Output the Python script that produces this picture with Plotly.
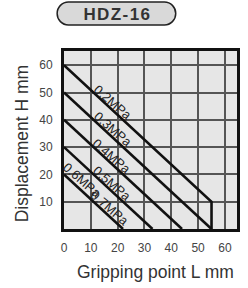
import plotly.graph_objects as go

# ---- data ----
pressure_labels = ["0.2MPa", "0.3MPa", "0.4MPa", "0.5MPa", "0.6MPa", "0.7MPa"]
# each curve: gripping point L (x) vs displacement H (y)
curve_names = ["0.2MPa", "0.3MPa", "0.4MPa", "0.5MPa", "0.6-0.7MPa"]
curve_L = [[0, 55, 55], [0, 55], [0, 44], [0, 33], [0, 22]]
curve_H = [[60, 10, 0], [50, 0], [40, 0], [30, 0], [20, 0]]
x_ticks = [0, 10, 20, 30, 40, 50, 60]
y_ticks = [10, 20, 30, 40, 50, 60]
title_text = "HDZ-16"

# label anchor points (data coords) for the pressure labels
label_L = [18.2, 18.3, 17.9, 17.8, 6.8, 17.3]
label_H = [46.3, 36.3, 26.6, 16.5, 17.6, 7.6]

W, H = 248, 288
ML, MR, MT, MB = 64, 7.5, 51, 59
PW, PH = W - ML - MR, H - MT - MB

fig = go.Figure()
for name, xs, ys in zip(curve_names, curve_L, curve_H):
    fig.add_trace(go.Scatter(x=xs, y=ys, mode="lines", name=name,
                             line=dict(color="#111111", width=2.6),
                             hoverinfo="skip", showlegend=False))

font_family = "Liberation Sans, Arial, Helvetica, sans-serif"

for txt, lx, ly in zip(pressure_labels, label_L, label_H):
    fig.add_annotation(x=lx, y=ly, xref="x", yref="y", text=txt,
                       showarrow=False, textangle=41,
                       font=dict(family=font_family, size=13, color="#222222"))


def p2paper(px, py):
    return (px - ML) / PW, (H - MB - py) / PH


# pill-shaped title box
l, r, t, b = 57, 178, 2, 25
rad = (b - t) / 2
cy = t + rad
k = 0.5523 * rad
pts = [
    ("M", [(l + rad, t)]),
    ("L", [(r - rad, t)]),
    ("C", [(r - rad + k, t), (r, cy - k), (r, cy)]),
    ("C", [(r, cy + k), (r - rad + k, b), (r - rad, b)]),
    ("L", [(l + rad, b)]),
    ("C", [(l + rad - k, b), (l, cy + k), (l, cy)]),
    ("C", [(l, cy - k), (l + rad - k, t), (l + rad, t)]),
]
path = ""
for cmd, pl in pts:
    path += cmd + " " + " ".join("%.5f,%.5f" % p2paper(*p) for p in pl) + " "
path += "Z"
fig.add_shape(type="path", path=path, xref="paper", yref="paper",
              fillcolor="#d9d9d9", line=dict(color="#222222", width=1.5), layer="above")

tx, ty = p2paper(117.5, 14)
fig.add_annotation(x=tx, y=ty, xref="paper", yref="paper",
                   text="\u200aH\u200aD\u200aZ\u200a-\u200a1\u200a6",
                   showarrow=False, xanchor="center", yanchor="middle",
                   font=dict(family=font_family, size=17, color="#333333", weight="bold"))

# axis titles
ax, ay = p2paper(157.5, 272)
fig.add_annotation(x=ax, y=ay, xref="paper", yref="paper", text="Gripping point L mm",
                   showarrow=False, xanchor="center", yanchor="middle",
                   font=dict(family=font_family, size=17.5, color="#333333"))
bx, by = p2paper(21.5, 143)
fig.add_annotation(x=bx, y=by, xref="paper", yref="paper", text="Displacement H mm",
                   showarrow=False, xanchor="center", yanchor="middle", textangle=-90,
                   font=dict(family=font_family, size=17.5, color="#333333"))

axis_common = dict(showline=True, linecolor="#111111", linewidth=3, mirror=True,
                   showgrid=True, gridcolor="#555555", gridwidth=1.5,
                   zeroline=False, ticks="", fixedrange=True,
                   tickfont=dict(family=font_family, size=12, color="#444444"))

fig.update_xaxes(range=[0, 64.5], tickvals=x_ticks, ticktext=[str(v) for v in x_ticks],
                 ticklabelstandoff=6, **axis_common)
fig.update_yaxes(range=[0, 65.2], tickvals=y_ticks, ticktext=[str(v) for v in y_ticks],
                 ticklabelstandoff=6, **axis_common)

fig.update_layout(width=W, height=H, margin=dict(l=ML, r=MR, t=MT, b=MB, pad=0),
                  plot_bgcolor="#e6e6e6", paper_bgcolor="#ffffff", showlegend=False,
                  font=dict(family=font_family))

fig.write_html("out.html", config={"displayModeBar": False},
               post_script="document.body.style.margin='0';document.body.style.overflow='hidden';")
